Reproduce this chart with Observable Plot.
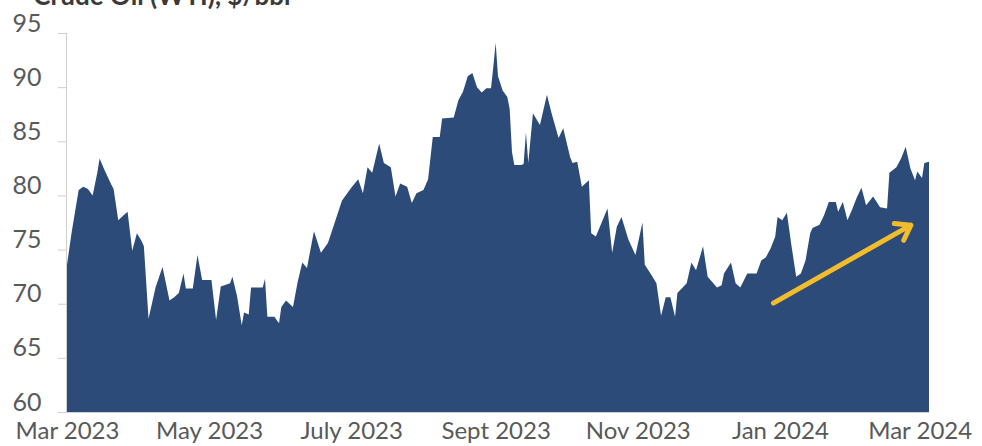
<!DOCTYPE html>
<html><head><meta charset="utf-8">
<script src="https://cdn.jsdelivr.net/npm/d3@7"></script>
<script src="https://cdn.jsdelivr.net/npm/@observablehq/plot@0.6"></script>
<style>html,body{margin:0;padding:0;background:#fff;overflow:hidden;}</style>
</head><body><div id="chart"></div>
<script>
const dates = ["2023-03-01","2023-03-03","2023-03-06","2023-03-08","2023-03-10","2023-03-12","2023-03-14","2023-03-15","2023-03-17","2023-03-20","2023-03-21","2023-03-23","2023-03-26","2023-03-27","2023-03-29","2023-03-31",
"2023-04-02","2023-04-03","2023-04-05","2023-04-08","2023-04-11","2023-04-14","2023-04-16","2023-04-18","2023-04-20","2023-04-21","2023-04-24","2023-04-26","2023-04-28",
"2023-05-02","2023-05-04","2023-05-06","2023-05-10","2023-05-11","2023-05-13","2023-05-15","2023-05-16","2023-05-18","2023-05-19","2023-05-24","2023-05-25","2023-05-26","2023-05-29","2023-05-31",
"2023-06-01","2023-06-03","2023-06-06","2023-06-08","2023-06-10","2023-06-12","2023-06-15","2023-06-18","2023-06-21","2023-06-23","2023-06-27",
"2023-07-01","2023-07-04","2023-07-06","2023-07-08","2023-07-10","2023-07-13","2023-07-15","2023-07-18","2023-07-20","2023-07-22","2023-07-25","2023-07-27","2023-07-29",
"2023-08-01","2023-08-03","2023-08-05","2023-08-08","2023-08-09","2023-08-14","2023-08-16","2023-08-18","2023-08-20","2023-08-22","2023-08-24","2023-08-26","2023-08-28","2023-08-30","2023-08-31",
"2023-09-01","2023-09-02","2023-09-04","2023-09-06","2023-09-07","2023-09-08","2023-09-09","2023-09-12","2023-09-13","2023-09-14","2023-09-15","2023-09-17","2023-09-20","2023-09-23","2023-09-25","2023-09-28","2023-09-30",
"2023-10-03","2023-10-04","2023-10-06","2023-10-08","2023-10-11","2023-10-12","2023-10-14","2023-10-19","2023-10-21","2023-10-23","2023-10-25","2023-10-28","2023-10-31",
"2023-11-03","2023-11-04","2023-11-07","2023-11-09","2023-11-11","2023-11-13","2023-11-15","2023-11-17","2023-11-18","2023-11-22","2023-11-24","2023-11-26","2023-11-29",
"2023-12-01","2023-12-05","2023-12-07","2023-12-08","2023-12-11","2023-12-13","2023-12-15","2023-12-18","2023-12-22","2023-12-24","2023-12-26","2023-12-28","2023-12-30","2023-12-31",
"2024-01-02","2024-01-04","2024-01-06","2024-01-08","2024-01-10","2024-01-12","2024-01-14","2024-01-15","2024-01-18","2024-01-20","2024-01-22","2024-01-25","2024-01-26","2024-01-28","2024-01-30",
"2024-02-01","2024-02-03","2024-02-05","2024-02-07","2024-02-10","2024-02-13","2024-02-16","2024-02-17","2024-02-20","2024-02-22","2024-02-24","2024-02-26","2024-02-28","2024-02-29",
"2024-03-02","2024-03-03","2024-03-05"];
const prices = [73.6,76.6,80.5,80.8,80.6,80.0,82.1,83.4,82.4,81.0,80.6,77.7,78.3,78.5,74.9,76.5,
75.8,75.3,68.6,71.5,73.4,70.3,70.6,71.0,72.8,71.4,71.4,74.5,72.2,
72.2,68.5,71.6,71.9,72.5,70.7,68.0,69.2,69.0,71.5,71.5,72.3,68.8,68.8,68.2,
69.7,70.3,69.7,72.0,73.8,73.3,76.7,74.7,75.6,76.9,79.5,
80.7,81.5,80.2,82.6,82.1,84.8,83.0,82.6,79.9,81.1,80.8,79.3,80.2,
80.5,81.5,85.4,85.4,87.1,87.2,88.8,89.6,91.0,91.3,90.0,89.5,89.9,89.9,91.9,
94.1,91.0,89.7,89.1,88.0,84.0,82.8,82.8,82.9,85.8,83.0,87.6,86.5,89.3,87.6,85.3,86.2,
83.5,83.0,83.1,80.8,81.4,76.5,76.2,78.8,74.7,77.1,78.0,75.9,74.5,
77.5,73.6,72.6,71.9,68.9,70.6,70.6,68.8,71.0,71.9,73.8,73.1,75.3,
72.5,71.5,71.7,72.8,73.8,71.9,71.5,72.8,72.8,74.0,74.3,75.1,76.2,78.0,
77.7,78.4,75.3,72.5,72.8,74.0,76.5,77.0,77.3,78.2,79.4,79.4,78.5,79.4,77.7,
78.7,79.8,80.7,79.1,79.9,78.9,78.8,82.1,82.6,83.4,84.5,82.5,81.4,82.2,
81.6,83.0,83.1];

const yTicks = [60, 65, 70, 75, 80, 85, 90, 95];
const xTickDates = ["2023-03-01","2023-05-01","2023-07-01","2023-09-01","2023-11-01","2024-01-01","2024-03-01"];
const xTickLabels = ["Mar 2023","May 2023","July 2023","Sept 2023","Nov 2023","Jan 2024","Mar 2024"];
const titleText = ["Crude Oil (WTI), $/bbl"];
const arrowStart = ["2023-12-29", 70.1];
const arrowEnd = ["2024-02-26", 77.3];

const data = dates.map((d, i) => ({date: new Date(d), price: prices[i]}));
const labelMap = new Map(xTickDates.map((d, i) => [+new Date(d), xTickLabels[i]]));
const arrowData = [{x1: new Date(arrowStart[0]), y1: arrowStart[1], x2: new Date(arrowEnd[0]), y2: arrowEnd[1]}];

const chart = Plot.plot({
  width: 982,
  height: 446,
  marginLeft: 67,
  marginRight: 53,
  marginTop: 33,
  marginBottom: 34,
  style: {fontFamily: "Lato, 'Open Sans', sans-serif", fontSize: "24px", background: "#fff", overflow: "visible"},
  x: {type: "utc", domain: [new Date("2023-03-01"), new Date("2024-03-05")]},
  y: {domain: [60, 95]},
  marks: [
    Plot.areaY(data, {x: "date", y1: 60, y2: "price", fill: "#2c4b78", curve: "linear"}),
    Plot.ruleX([new Date("2023-03-01")], {y1: 60, y2: 95, stroke: "#cfcfcf", strokeWidth: 1, dx: -1}),
    Plot.ruleY([60], {stroke: "#cfcfcf"}),
    Plot.axisY({ticks: yTicks, tickSize: 9, text: null, stroke: "#cfcfcf", label: null}),
    Plot.axisY({ticks: yTicks, tickSize: 0, tickPadding: 26, dy: -10, fill: "#595959", fontSize: 25, label: null}),
    Plot.axisX({ticks: xTickDates.map(d => new Date(d)), tickFormat: d => labelMap.get(+d), tickSize: 0, tickPadding: 9, fill: "#595959", fontSize: 24, label: null}),
    Plot.arrow(arrowData, {x1: "x1", y1: "y1", x2: "x2", y2: "y2", stroke: "#f2bd2c", strokeWidth: 5, headLength: 5, headAngle: 70}),
    Plot.text(titleText, {frameAnchor: "top-left", textAnchor: "end", dx: 223, dy: -47, fontSize: 26, fontWeight: "bold", fill: "#3a3a3a"})
  ]
});
document.getElementById("chart").appendChild(chart);
</script>
</body></html>
